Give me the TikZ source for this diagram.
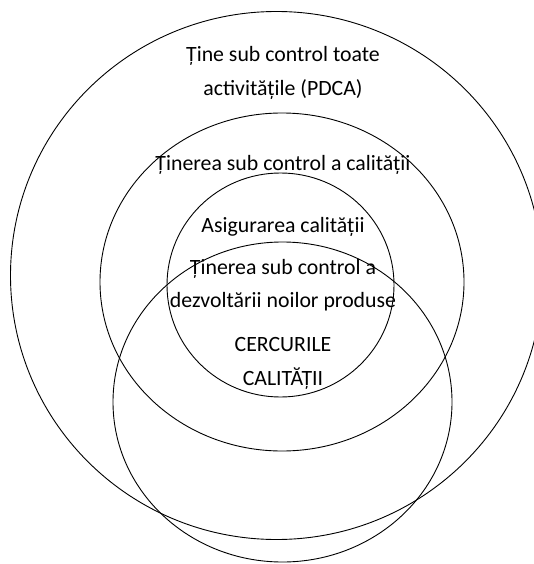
\documentclass[tikz,border=0pt]{standalone}
\usepackage{fontspec}
\setmainfont{Carlito}
\usepackage{tikz}

\begin{document}
\begin{tikzpicture}[x=1pt,y=-1pt,
    ring/.style={draw=black,line width=0.9pt},
    lbl/.style={anchor=base,inner sep=0pt,font=\fontsize{21.8}{34}\selectfont}]
  \useasboundingbox (0,0) rectangle (533,564);
  \draw[ring] (276.5,275.5) ellipse [x radius=266,y radius=264];
  \draw[ring] (282,282) ellipse [x radius=182,y radius=169];
  \draw[ring] (280.5,285) ellipse [x radius=113.5,y radius=112];
  \draw[ring] (282.5,402) ellipse [x radius=169.5,y radius=160];
  \node[lbl] (pdcaA) at (283,62) {Ține sub control toate};
  \node[lbl] (pdcaB) at (283,96) {activitățile (PDCA)};
  \node[lbl] (calit) at (283,171) {Ținerea sub control a calității};
  \node[lbl] (asig) at (283,232) {Asigurarea calității};
  \node[lbl] (dezvA) at (283,274) {Ținerea sub control a};
  \node[lbl] (dezvB) at (283,307) {dezvoltării noilor produse};
  \node[lbl] (cercA) at (283,351) {CERCURILE};
  \node[lbl] (cercB) at (283,385) {CALITĂȚII};
\end{tikzpicture}
\end{document}
